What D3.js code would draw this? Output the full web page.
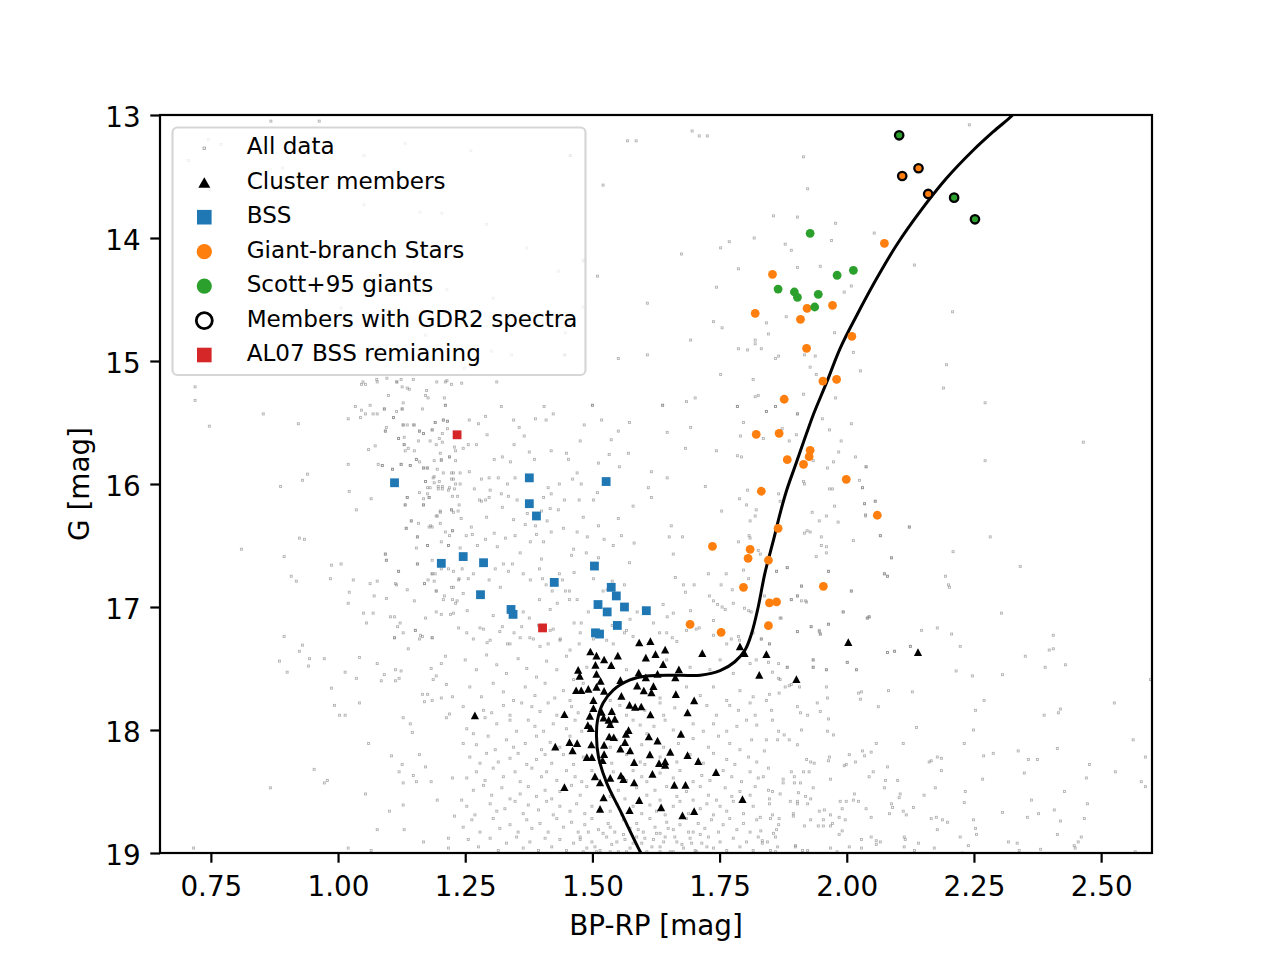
<!DOCTYPE html>
<html>
<head>
<meta charset="utf-8">
<script src="https://cdn.jsdelivr.net/npm/d3@7"></script>
<style>
body { margin: 0; background: #fff; }
svg { font-family: "DejaVu Sans", sans-serif; }
</style>
</head>
<body>
<svg id="cmd" width="1280" height="960"></svg>
<script>
var xTicks = [0.75, 1.00, 1.25, 1.50, 1.75, 2.00, 2.25, 2.50];
var yTicks = [13, 14, 15, 16, 17, 18, 19];

// all sources in the field: [BP-RP, G]
var allData = [
[0.719,15.21],[0.719,15.32],[0.747,15.53],[0.853,15.43],[0.922,15.51],[0.887,16.02],[0.930,15.97],[0.940,15.92],[0.810,16.53],[0.894,16.59],[0.924,16.44],[0.934,16.45],[0.908,16.75],[0.918,16.79],[0.894,17.24],[0.930,17.31],[0.924,17.36],[0.885,17.44],[0.900,17.53],[0.944,17.42],[0.942,17.48],[0.973,17.42],[0.953,18.32],[0.867,18.47],[0.973,18.43],[0.979,18.41],[0.716,18.96],[0.987,16.66],[1.006,16.65],[0.985,16.77],[0.987,17.66],[0.993,17.80],[1.003,17.88],[1.014,17.88],[1.014,17.53],[1.036,17.58],[1.042,17.41],[1.042,17.78],[1.060,18.11],[1.054,18.52],[1.020,18.96],[1.065,18.98],[1.077,18.81],[1.101,18.66],[1.105,18.21],[1.120,18.34],[1.126,18.28],[1.128,18.43],[1.128,18.61],[1.130,18.81],[1.148,18.37],[1.154,18.42],[1.160,18.20],[1.172,18.30],[1.168,18.91],[1.183,18.42],[1.195,18.57],[1.217,18.88],[1.217,18.96],[1.229,18.70],[1.225,18.39],[1.128,17.90],[1.142,17.95],[1.146,18.02],[1.213,17.90],[1.219,17.87],[1.166,17.71],[1.176,17.71],[1.170,17.77],[1.185,17.76],[1.203,17.74],[1.225,17.73],[1.213,17.63],[1.187,17.59],[1.193,17.56],[1.183,17.50],[1.203,17.46],[1.211,17.40],[1.077,17.46],[1.085,17.60],[1.091,17.55],[1.113,17.51],[1.113,17.60],[1.120,17.58],[1.124,17.52],[1.138,17.34],[1.111,17.25],[1.128,17.21],[1.117,17.16],[1.122,17.13],[1.152,17.19],[1.160,17.26],[1.166,17.24],[1.185,17.25],[1.103,17.08],[1.069,17.05],[1.050,17.05],[1.056,17.13],[1.020,16.97],[1.022,16.88],[1.071,16.91],[1.095,16.93],[1.030,16.78],[1.063,16.81],[1.077,16.79],[1.115,16.82],[1.136,16.86],[1.119,16.71],[1.093,16.57],[1.095,16.62],[1.156,16.65],[1.170,16.81],[1.177,16.78],[1.189,16.79],[1.185,16.73],[1.191,16.73],[1.193,16.87],[1.209,16.91],[1.203,17.06],[1.221,17.06],[1.237,17.17],[1.225,16.94],[1.231,16.97],[1.227,16.84],[1.237,16.78],[1.185,16.62],[1.203,16.69],[1.217,16.69],[1.154,16.52],[1.176,16.50],[1.203,16.47],[1.217,16.50],[1.156,16.43],[1.211,16.39],[1.219,16.42],[1.225,16.38],[1.134,16.36],[1.144,16.30],[1.158,16.32],[1.179,16.35],[1.185,16.35],[1.201,16.32],[1.195,16.26],[1.201,16.23],[1.223,16.21],[1.227,16.23],[1.132,16.17],[1.136,16.11],[1.168,16.12],[1.168,16.17],[1.179,16.11],[1.176,16.08],[1.225,16.10],[1.235,16.10],[1.217,16.05],[1.197,16.04],[1.205,16.02],[1.181,16.03],[1.172,15.98],[1.189,15.99],[1.229,16.04],[1.231,16.00],[1.223,15.96],[1.189,15.94],[1.207,15.91],[1.223,15.91],[1.195,15.88],[1.168,15.87],[1.176,15.87],[1.154,15.80],[1.160,15.82],[1.142,15.85],[1.124,15.84],[1.107,15.88],[1.079,15.84],[1.087,15.85],[1.020,15.84],[1.022,16.06],[1.065,16.12],[1.036,16.21],[1.060,15.72],[1.073,15.69],[1.119,15.63],[1.130,15.62],[1.130,15.68],[1.138,15.71],[1.132,15.73],[1.150,15.73],[1.158,15.65],[1.181,15.65],[1.193,15.68],[1.199,15.63],[1.205,15.66],[1.219,15.78],[1.231,15.81],[1.229,15.70],[1.203,15.80],[1.201,15.75],[1.160,15.57],[1.168,15.59],[1.185,15.56],[1.205,15.59],[1.215,15.55],[1.207,15.48],[1.215,15.49],[1.191,15.50],[1.128,15.52],[1.136,15.52],[1.150,15.52],[1.095,15.54],[1.093,15.57],[1.020,15.47],[1.044,15.46],[1.046,15.40],[1.054,15.43],[1.063,15.36],[1.069,15.43],[1.077,15.43],[1.091,15.39],[1.109,15.46],[1.115,15.41],[1.126,15.39],[1.128,15.34],[1.099,15.28],[1.166,15.39],[1.172,15.28],[1.177,15.30],[1.174,15.24],[1.209,15.30],[1.211,15.36],[1.211,15.17],[1.223,15.19],[1.126,15.21],[1.136,15.22],[1.140,15.23],[1.115,15.17],[1.124,15.15],[1.046,15.19],[1.054,15.19],[1.077,15.17],[1.034,15.37],
[2.241,13.08],[2.054,13.96],[2.133,14.22],[2.208,14.60],[2.027,15.08],[2.196,15.03],[2.190,15.22],[2.272,15.34],[2.465,15.66],[2.272,15.81],[2.038,15.86],[2.031,16.03],[2.035,16.16],[2.056,16.14],[2.037,16.25],[2.123,16.35],[2.066,16.42],[2.282,16.43],[2.209,16.55],[2.088,16.60],
[1.862,16.71],[1.883,16.68],[1.964,16.71],[2.074,16.73],[2.080,16.75],[2.194,16.75],[2.200,16.82],[2.202,16.84],[2.341,16.67],[1.911,16.83],[1.903,16.91],[1.891,16.94],[1.911,16.95],[1.921,16.96],[2.009,16.87],[1.993,17.04],[2.040,17.09],[2.044,17.08],[1.871,17.09],[1.930,17.16],[1.964,17.14],[1.946,17.20],[1.948,17.22],[1.903,17.20],[1.832,17.26],[1.848,17.30],[2.304,17.05],[2.147,17.19],[2.178,17.17],[2.206,17.22],[2.223,17.32],[2.406,17.23],[2.398,17.35],[2.406,17.34],[2.351,17.40],[2.080,17.37],[2.094,17.36],[2.125,17.32],[1.934,17.43],[1.934,17.49],[2.001,17.45],[2.019,17.51],[1.960,17.51],[1.846,17.45],[1.866,17.46],[1.883,17.49],[1.854,17.53],[1.866,17.58],[1.869,17.59],[1.879,17.65],[1.887,17.64],[1.891,17.63],[1.907,17.65],[2.215,17.52],[2.247,17.56],[2.306,17.55],[2.390,17.49],[2.430,17.47],[2.597,17.59],[1.960,17.65],[1.962,17.74],[1.942,17.78],[1.948,17.85],[1.923,17.88],[1.909,17.86],[1.903,17.81],[1.852,17.84],[1.854,17.92],[1.842,17.76],[1.848,17.71],[1.867,17.70],[2.023,17.70],[2.029,17.69],[2.027,17.75],[2.082,17.68],[2.062,17.81],[2.129,17.69],[2.137,17.98],[2.253,17.84],[2.270,17.76],[2.249,18.00],[2.388,17.88],[2.416,17.86],[2.420,17.83],[2.526,17.78],[2.563,18.08],[2.587,18.22],[1.964,17.91],[1.962,18.01],[1.974,18.04],[1.911,18.00],[1.866,18.01],[1.877,18.04],[1.887,18.08],[1.864,18.08],[1.903,18.12],[1.842,18.08],[1.838,18.17],[2.111,18.11],[2.058,18.11],[2.231,18.11],[2.269,18.21],[2.288,18.19],[2.337,18.17],[2.357,18.24],[2.375,18.24],[2.414,18.15],[2.477,18.28],[2.528,18.34],[2.471,18.39],[2.579,18.42],[2.587,18.46],[2.349,18.35],[2.267,18.40],[2.186,18.33],[2.162,18.26],[2.166,18.25],[2.178,18.22],[2.186,18.23],[2.080,18.30],[2.052,18.34],[2.044,18.38],[2.076,18.41],[2.100,18.41],[2.074,18.47],[2.031,18.17],[2.035,18.21],[2.048,18.18],[2.005,18.20],[2.017,18.26],[1.995,18.29],[1.999,18.28],[1.964,18.25],[1.966,18.22],[1.921,18.24],[1.929,18.26],[1.936,18.27],[1.891,18.34],[1.897,18.38],[1.915,18.34],[1.926,18.34],[1.909,18.43],[1.897,18.43],[1.875,18.40],[1.875,18.43],[1.846,18.31],[1.836,18.38],[1.846,18.49],[1.854,18.50],[1.869,18.52],[1.848,18.56],[1.848,18.60],[1.968,18.40],[1.934,18.47],[1.905,18.51],[1.919,18.54],[1.929,18.56],[1.903,18.58],[1.903,18.60],[1.889,18.58],[1.923,18.60],[1.987,18.58],[1.999,18.58],[2.013,18.57],[2.023,18.58],[2.015,18.52],[1.991,18.64],[2.038,18.64],[2.088,18.60],[2.090,18.63],[2.105,18.52],[2.103,18.55],[2.152,18.53],[2.131,18.63],[2.174,18.47],[2.233,18.50],[2.231,18.59],[2.306,18.67],[2.363,18.57],[2.377,18.68],[2.408,18.65],[2.428,18.50],[2.473,18.60],[2.420,18.74],[2.467,18.72],[2.414,18.85],[2.461,18.87],[2.455,18.91],[2.447,18.94],[2.449,18.96],[2.355,18.71],[2.335,18.92],[2.318,18.91],[2.339,18.98],[2.381,18.97],[2.567,18.99],[2.249,18.73],[2.253,18.80],[2.255,18.85],[2.223,18.87],[2.239,18.94],[2.227,19.00],[2.198,18.75],[2.188,18.73],[2.176,18.71],[2.166,18.72],[2.178,18.81],[2.172,18.96],[2.141,18.92],[2.133,18.98],[2.113,18.87],[2.115,18.89],[2.113,18.95],[2.111,18.66],[2.117,18.69],[2.084,18.68],[2.066,18.91],[2.058,18.90],[2.058,18.93],[2.048,18.87],[2.029,18.89],[2.029,18.96],[2.048,18.71],[2.005,18.95],[1.991,18.82],[1.985,18.85],[1.997,18.73],[1.985,18.71],[1.968,18.69],[1.972,18.76],[1.968,18.78],[1.954,18.73],[1.954,18.78],[1.944,18.78],[1.946,18.66],[1.956,18.65],[1.929,18.73],[1.917,18.78],[1.895,18.68],[1.895,18.70],[1.867,18.72],[1.866,18.77],[1.854,18.69],[1.850,18.72],[1.862,18.81],[1.856,18.84],[1.860,18.87],[1.844,18.91],[1.834,18.90],[1.834,18.92],[1.864,18.95],[1.850,18.98],[1.860,18.99],[1.899,18.94],[1.899,18.95],[1.913,18.98],[1.923,18.98],[1.968,18.96],[1.981,18.99],[1.830,18.71],[1.831,18.82],
[1.091,15.39],[1.109,15.46],[1.126,15.39],[1.128,15.52],[1.148,15.52],[1.093,15.57],[1.119,15.63],[1.130,15.68],[1.160,15.57],[1.168,15.59],[1.185,15.56],[1.191,15.50],[1.207,15.48],[1.215,15.49],[1.211,15.36],[1.258,15.48],[1.276,15.51],[1.290,15.45],[1.321,15.37],[1.345,15.48],[1.356,15.54],[1.366,15.61],[1.388,15.47],[1.409,15.48],[1.423,15.43],[1.405,15.37],[1.484,15.52],[1.500,15.36],[1.518,15.48],[1.573,15.50],[1.638,15.36],[1.647,15.58],[1.551,15.57],[1.537,15.64],[1.476,15.65],[1.449,15.75],[1.453,15.80],[1.419,15.73],[1.386,15.80],[1.376,15.74],[1.346,15.68],[1.339,15.82],[1.323,15.78],[1.307,15.80],[1.293,15.60],[1.272,15.68],[1.256,15.68],[1.246,15.71],[1.231,15.73],[1.219,15.78],[1.203,15.81],[1.189,15.81],[1.175,15.87],[1.168,15.87],[1.154,15.80],[1.142,15.85],[1.124,15.84],[1.107,15.88],[1.087,15.85],[1.227,15.91],[1.240,15.91],[1.258,15.90],[1.227,15.96],[1.199,15.98],[1.187,15.95],[1.172,15.98],[1.176,16.03],[1.160,16.07],[1.136,16.11],[1.132,16.17],[1.168,16.17],[1.179,16.11],[1.197,16.02],[1.205,16.04],[1.219,16.03],[1.240,16.00],[1.268,16.04],[1.278,16.13],[1.290,16.13],[1.297,16.11],[1.299,16.05],[1.282,15.96],[1.297,15.95],[1.315,15.95],[1.333,16.00],[1.348,15.95],[1.352,16.13],[1.335,16.10],[1.323,16.19],[1.321,16.08],[1.238,16.17],[1.236,16.22],[1.223,16.21],[1.201,16.22],[1.193,16.26],[1.182,16.34],[1.144,16.30],[1.156,16.43],[1.134,16.36],[1.093,16.57],[1.095,16.62],[1.119,16.71],[1.113,16.81],[1.156,16.65],[1.176,16.50],[1.185,16.73],[1.170,16.81],[1.193,16.87],[1.217,16.50],[1.225,16.38],[1.242,16.28],[1.262,16.35],[1.264,16.41],[1.252,16.42],[1.274,16.50],[1.240,16.52],[1.244,16.69],[1.227,16.71],[1.238,16.77],[1.256,16.77],[1.266,16.73],[1.223,16.84],[1.234,16.95],[1.254,17.03],[1.227,17.05],[1.246,16.89],[1.207,16.94],[1.150,16.95],[1.193,17.04],[1.172,17.09],[1.111,17.08],[1.152,17.19],[1.111,17.25],[1.185,17.25],[1.162,17.23],[1.282,16.14],[1.292,16.27],[1.307,16.40],[1.290,16.45],[1.313,16.51],[1.329,16.44],[1.348,16.42],[1.358,16.56],[1.343,16.65],[1.325,16.65],[1.309,16.69],[1.297,16.78],[1.319,16.84],[1.335,16.71],[1.364,16.73],[1.378,16.78],[1.396,16.69],[1.400,16.61],[1.378,16.47],[1.390,16.41],[1.404,16.47],[1.388,16.34],[1.368,16.33],[1.345,16.29],[1.372,16.24],[1.400,16.22],[1.417,16.20],[1.419,16.08],[1.404,16.11],[1.413,16.03],[1.435,16.00],[1.461,15.96],[1.470,15.91],[1.478,16.00],[1.445,16.13],[1.433,16.21],[1.411,16.30],[1.419,16.39],[1.443,16.36],[1.470,16.39],[1.490,16.43],[1.482,16.27],[1.474,16.13],[1.502,16.13],[1.510,16.07],[1.512,15.83],[1.553,15.86],[1.571,15.75],[1.533,15.76],[1.616,15.90],[1.610,16.03],[1.647,15.95],[1.616,16.11],[1.580,16.18],[1.551,16.28],[1.512,16.34],[1.582,16.48],[1.573,16.64],[1.655,16.34],[1.651,16.43],[1.659,16.57],[1.663,16.76],[1.639,16.98],[1.647,17.08],[1.659,17.05],[1.600,17.01],[1.588,17.04],[1.563,16.82],[1.539,16.79],[1.521,16.87],[1.529,16.86],[1.502,16.77],[1.464,16.72],[1.455,16.87],[1.435,16.73],[1.441,16.78],[1.463,16.53],[1.459,16.58],[1.488,16.56],[1.512,16.60],[1.541,16.50],[1.523,16.45],[1.557,16.42],[1.402,16.77],[1.409,16.82],[1.421,16.87],[1.447,16.87],[1.470,16.94],[1.455,16.94],[1.492,17.04],[1.478,17.13],[1.464,17.13],[1.431,16.97],[1.417,17.02],[1.396,16.94],[1.364,17.04],[1.376,17.09],[1.394,17.15],[1.423,17.18],[1.437,17.26],[1.413,17.30],[1.384,17.26],[1.346,17.21],[1.323,17.16],[1.305,17.07],[1.286,17.18],[1.266,17.26],[1.293,17.29],[1.333,17.30],[1.358,17.25],[1.474,17.30],[1.502,17.26],[1.541,17.30],[1.563,17.21],[1.539,17.15],[1.574,17.10],[1.620,17.13],[1.632,17.21],[1.657,17.25],[1.610,17.30],
[1.785,15.37],[1.842,15.41],[1.860,15.37],[1.903,15.43],[1.797,15.50],[1.693,15.54],[1.873,15.55],[1.791,15.61],[1.836,15.63],[1.887,15.65],[1.901,15.60],[1.952,15.47],[1.966,15.56],[2.009,15.51],[1.989,15.65],[1.683,15.71],[1.744,15.73],[1.785,15.77],[1.793,15.78],[1.934,15.81],[1.984,15.74],[2.017,15.78],[1.974,15.82],[1.962,15.87],[2.038,15.86],[1.915,15.98],[1.917,16.00],[2.025,15.97],[2.031,16.03],[1.972,16.04],[1.966,16.04],[1.722,16.02],[1.805,16.05],[1.866,16.08],[1.789,16.12],[1.869,16.14],[1.803,16.17],[1.822,16.21],[1.754,16.22],[1.820,16.26],[1.810,16.30],[1.932,16.23],[1.976,16.18],[2.035,16.16],[2.056,16.14],[2.037,16.26],[1.960,16.26],[1.946,16.30],[1.983,16.31],[2.123,16.35],[2.066,16.42],[2.013,16.46],[1.950,16.43],[1.950,16.50],[1.960,16.51],[1.960,16.56],[1.940,16.59],[1.917,16.40],[1.922,16.38],[1.928,16.39],[1.808,16.42],[1.810,16.44],[1.677,16.43],[1.787,16.47],[1.826,16.54],[1.830,16.57],[1.797,16.70],[1.807,16.77],[1.728,16.73],[1.763,16.73],[1.753,16.82],[1.775,16.86],[1.964,16.71],[1.883,16.68],[1.862,16.71],[1.911,16.83],[2.009,16.87],[2.088,16.60],[2.074,16.73],[2.080,16.75],[1.903,16.91],[1.919,16.95],[1.891,16.94],[1.993,17.04],[1.730,16.91],[1.738,16.95],[1.746,16.98],[1.755,17.00],[1.761,17.02],[1.777,16.97],[1.799,17.01],[1.807,17.03],[1.812,17.04],[1.838,16.91],[1.869,17.09],[1.930,17.16],[1.946,17.19],[1.948,17.22],[1.903,17.20],[1.964,17.14],[2.041,17.09],[2.044,17.08],[1.693,17.03],[1.679,16.82],[1.700,16.82],[1.683,16.88],[1.738,17.11],[1.710,17.17],[1.704,17.18],[1.773,17.26],[1.787,17.24],[1.789,17.27],[1.832,17.26],[1.848,17.30],[1.822,17.43],[1.883,17.49],[1.934,17.43],[1.934,17.49],[1.960,17.51],[2.001,17.45],[2.019,17.51],[2.094,17.36],[2.080,17.37],[2.125,17.32],
[1.696,13.13],[1.710,13.17],[1.726,13.17],[1.569,13.21],[1.586,13.21],[1.457,13.33],[1.915,13.34],[1.521,13.57],[1.923,13.60],[1.856,13.82],[1.903,13.83],[1.978,13.88],[1.818,14.00],[1.769,14.03],[1.879,14.05],[1.970,14.02],[1.752,14.08],[1.891,14.10],[1.675,14.13],[1.482,14.18],[1.787,14.25],[1.903,14.24],[1.948,14.23],[1.510,14.31],[1.744,14.40],[1.995,14.44],[2.009,14.39],[1.608,14.53],[1.881,14.64],[1.738,14.68],[1.755,14.73],[1.842,14.69],[1.846,14.78],[1.693,14.83],[1.820,14.83],[1.820,14.86],[1.787,14.90],[1.805,14.91],[1.832,14.90],[1.860,14.98],[1.866,14.96],[1.917,14.95],[1.938,14.96],[1.976,14.77],[2.013,14.93],[1.551,14.98],[1.608,14.95],[1.928,15.05],[1.940,15.11],[1.752,15.11],[1.816,15.15],[1.820,15.29],[1.826,15.28],[1.915,15.27],[1.978,15.30],[1.785,15.37],[1.842,15.41],[1.860,15.37],[1.500,15.36],[1.638,15.36],[1.685,15.33],[1.702,15.30],[1.903,15.43],[1.445,14.95],[1.447,14.77],
[0.868,13.05],[0.963,13.05],[0.745,13.20],[0.770,13.24],[1.132,13.23],[1.261,13.29],[1.456,13.33],[1.051,13.33],[0.706,13.37],[0.891,13.43],[0.748,13.61],[1.001,13.58],[1.161,13.79],[1.204,13.80],[1.051,13.73],[1.292,13.89],[1.371,14.08],[1.433,14.27],[1.214,14.42],[1.305,14.49],[1.006,14.57],[1.098,14.59],[1.345,14.65],[1.172,14.79],[1.302,14.92],[1.446,14.95],[1.248,15.06],[1.341,14.95],[1.482,14.19],[1.482,14.56],[1.049,15.17],[1.076,15.15],[1.096,15.14],[1.116,15.17],[1.148,15.15],[1.194,15.17],[1.214,15.16],[1.243,15.18],[1.312,15.17],
[1.253,17.21],[1.279,17.17],[1.299,17.27],[1.318,17.20],[1.338,17.30],[1.361,17.16],[1.377,17.25],[1.397,17.32],[1.417,17.19],[1.436,17.27],[1.456,17.35],[1.476,17.21],[1.528,17.27],[1.567,17.19],[1.580,17.24],[1.646,17.21],[1.666,17.28],[1.685,17.19],[1.738,17.23],[1.764,17.30],[1.816,17.21],[1.250,17.43],[1.272,17.51],[1.292,17.39],[1.312,17.47],[1.331,17.54],[1.354,17.42],[1.371,17.50],[1.390,17.57],[1.410,17.44],[1.430,17.51],[1.449,17.40],[1.463,17.59],[1.489,17.49],[1.567,17.51],[1.646,17.43],[1.692,17.49],[1.731,17.51],[1.751,17.43],[1.777,17.54],[1.810,17.46],[1.259,17.65],[1.282,17.73],[1.305,17.62],[1.325,17.69],[1.345,17.76],[1.368,17.65],[1.387,17.72],[1.407,17.62],[1.426,17.74],[1.443,17.68],[1.456,17.76],[1.482,17.62],[1.535,17.76],[1.633,17.74],[1.685,17.65],[1.712,17.72],[1.738,17.65],[1.764,17.76],[1.790,17.68],[1.816,17.73],
[1.246,17.81],[1.286,17.84],[1.302,17.86],[1.325,17.80],[1.338,17.88],[1.361,17.78],[1.381,17.81],[1.397,17.85],[1.413,17.78],[1.430,17.88],[1.459,17.81],[1.472,17.86],[1.554,17.80],[1.567,17.88],[1.603,17.84],[1.633,17.78],[1.640,17.88],[1.662,17.82],[1.725,17.80],[1.744,17.88],[1.770,17.80],[1.787,17.84],[1.810,17.78],[1.820,17.88],
[1.253,17.99],[1.266,18.03],[1.289,17.90],[1.312,17.95],[1.338,17.92],[1.351,18.01],[1.374,17.92],[1.387,17.97],[1.404,18.01],[1.423,17.95],[1.449,17.99],[1.466,17.92],[1.479,18.01],[1.548,17.93],[1.580,17.92],[1.594,17.96],[1.621,17.97],[1.643,17.92],[1.659,18.00],[1.698,17.95],[1.718,18.01],[1.738,17.95],[1.764,18.01],[1.784,17.97],[1.803,17.92],[1.823,17.96],
[1.246,18.11],[1.272,18.12],[1.295,18.05],[1.309,18.16],[1.331,18.08],[1.345,18.14],[1.368,18.11],[1.390,18.05],[1.400,18.16],[1.417,18.10],[1.436,18.14],[1.456,18.05],[1.535,18.14],[1.548,18.08],[1.597,18.12],[1.607,18.03],[1.640,18.14],[1.669,18.11],[1.698,18.07],[1.728,18.14],[1.748,18.05],[1.770,18.11],[1.790,18.16],[1.813,18.08],
[1.259,18.22],[1.279,18.27],[1.292,18.19],[1.315,18.26],[1.338,18.23],[1.354,18.19],[1.371,18.28],[1.390,18.24],[1.407,18.20],[1.420,18.27],[1.443,18.20],[1.463,18.28],[1.482,18.22],[1.538,18.27],[1.567,18.20],[1.594,18.26],[1.603,18.28],[1.633,18.22],[1.666,18.26],[1.692,18.20],[1.718,18.27],[1.738,18.19],[1.764,18.24],[1.780,18.28],[1.807,18.22],[1.823,18.26],
[1.253,18.39],[1.272,18.34],[1.289,18.41],[1.305,18.31],[1.325,18.38],[1.348,18.34],[1.358,18.42],[1.381,18.31],[1.400,18.38],[1.410,18.34],[1.430,18.41],[1.449,18.33],[1.466,18.38],[1.479,18.42],[1.499,18.33],[1.541,18.34],[1.567,18.41],[1.580,18.33],[1.597,18.38],[1.607,18.42],[1.633,18.35],[1.659,18.39],[1.672,18.33],[1.698,18.42],[1.715,18.37],[1.731,18.41],[1.757,18.33],[1.774,18.38],[1.793,18.42],[1.810,18.34],[1.826,18.39],
[1.243,18.57],[1.266,18.49],[1.286,18.45],[1.302,18.53],[1.322,18.47],[1.338,18.56],[1.358,18.52],[1.374,18.46],[1.390,18.54],[1.407,18.49],[1.420,18.56],[1.436,18.50],[1.459,18.45],[1.476,18.53],[1.489,18.46],[1.535,18.54],[1.551,18.49],[1.564,18.56],[1.587,18.47],[1.607,18.53],[1.623,18.49],[1.633,18.57],[1.646,18.46],[1.666,18.54],[1.685,18.50],[1.698,18.57],[1.712,18.46],[1.728,18.53],[1.744,18.57],[1.761,18.47],[1.774,18.54],[1.790,18.50],[1.810,18.53],[1.820,18.46],
[1.253,18.62],[1.269,18.69],[1.299,18.60],[1.312,18.66],[1.328,18.64],[1.348,18.58],[1.364,18.68],[1.374,18.61],[1.394,18.65],[1.410,18.58],[1.423,18.69],[1.436,18.62],[1.456,18.66],[1.469,18.60],[1.485,18.68],[1.499,18.62],[1.535,18.66],[1.548,18.60],[1.558,18.69],[1.580,18.62],[1.597,18.68],[1.613,18.61],[1.626,18.66],[1.643,18.69],[1.659,18.62],[1.672,18.58],[1.689,18.68],[1.712,18.64],[1.725,18.60],[1.738,18.69],[1.751,18.62],[1.764,18.66],[1.777,18.58],[1.797,18.68],[1.816,18.62],
[1.246,18.79],[1.263,18.73],[1.279,18.83],[1.305,18.72],[1.318,18.80],[1.338,18.77],[1.354,18.83],[1.371,18.73],[1.381,18.80],[1.397,18.76],[1.413,18.83],[1.430,18.72],[1.443,18.79],[1.459,18.75],[1.472,18.83],[1.485,18.77],[1.499,18.72],[1.512,18.81],[1.531,18.76],[1.544,18.83],[1.561,18.73],[1.574,18.80],[1.587,18.76],[1.600,18.83],[1.613,18.72],[1.623,18.79],[1.633,18.84],[1.646,18.75],[1.659,18.81],[1.672,18.77],[1.685,18.72],[1.698,18.83],[1.708,18.76],[1.721,18.80],[1.734,18.73],[1.748,18.83],[1.757,18.77],[1.770,18.72],[1.784,18.81],[1.797,18.76],[1.810,18.83],[1.823,18.73],
[1.256,18.89],[1.276,18.95],[1.299,18.88],[1.315,18.98],[1.331,18.92],[1.351,18.87],[1.364,18.96],[1.377,18.91],[1.394,18.98],[1.407,18.88],[1.420,18.95],[1.436,18.89],[1.449,18.98],[1.463,18.92],[1.476,18.87],[1.489,18.96],[1.499,18.91],[1.515,18.98],[1.528,18.87],[1.538,18.93],[1.551,18.99],[1.564,18.89],[1.574,18.96],[1.587,18.87],[1.597,18.92],[1.607,18.99],[1.620,18.89],[1.633,18.95],[1.643,18.87],[1.653,18.99],[1.666,18.91],[1.679,18.96],[1.692,18.88],[1.702,18.98],[1.715,18.92],[1.728,18.87],[1.738,18.96],[1.751,18.91],[1.764,18.98],[1.777,18.88],[1.790,18.95],[1.803,18.91],[1.816,18.98],[1.826,18.87],
[1.476,18.89],[1.492,18.83],[1.505,18.95],[1.521,18.84],[1.535,18.79],[1.548,18.91],[1.561,18.85],[1.580,18.92],[1.590,18.81],[1.603,18.88],[1.617,18.95],[1.626,18.84],[1.640,18.91],[1.649,18.80],[1.662,18.87],[1.676,18.93],[1.689,18.83],[1.695,18.92],[1.712,18.85],[1.725,18.95],[1.508,18.99],[1.659,18.99],[1.567,18.99],[1.535,18.99],[1.705,18.99],[1.482,18.99],[1.633,18.99]
];

var members = [
[1.269,17.883],[1.592,17.290],[1.614,17.279],[1.643,17.347],[1.496,17.363],[1.508,17.396],[1.550,17.396],[1.605,17.412],[1.624,17.385],[1.716,17.377],[1.790,17.322],[1.799,17.377],[1.523,17.428],[1.506,17.472],[1.537,17.474],[1.639,17.466],[1.472,17.512],[1.670,17.509],[1.475,17.561],[1.508,17.545],[1.591,17.534],[1.628,17.545],[1.605,17.574],[1.663,17.574],[1.516,17.602],[1.555,17.596],[1.508,17.650],[1.588,17.640],[1.620,17.645],[1.468,17.678],[1.478,17.678],[1.492,17.667],[1.523,17.683],[1.601,17.680],[1.616,17.696],[1.557,17.724],[1.664,17.710],[1.502,17.759],[1.700,17.761],[1.573,17.797],[1.584,17.813],[1.596,17.810],[1.502,17.824],[1.445,17.873],[1.518,17.854],[1.538,17.848],[1.614,17.875],[1.687,17.859],[1.495,17.886],[1.522,17.900],[1.532,17.919],[1.544,17.911],[1.491,17.962],[1.497,17.986],[1.535,17.954],[1.571,18.003],[1.566,18.033],[1.674,18.033],[1.533,18.054],[1.542,18.060],[1.611,18.054],[1.628,18.087],[1.455,18.100],[1.470,18.108],[1.498,18.119],[1.564,18.100],[1.427,18.136],[1.461,18.168],[1.523,18.122],[1.555,18.152],[1.574,18.168],[1.653,18.179],[1.523,18.198],[1.613,18.200],[1.687,18.206],[1.489,18.222],[1.499,18.222],[1.520,18.247],[1.582,18.263],[1.631,18.271],[1.643,18.257],[1.643,18.285],[1.708,18.255],[1.618,18.358],[1.743,18.344],[1.505,18.379],[1.535,18.390],[1.556,18.371],[1.561,18.401],[1.515,18.428],[1.582,18.428],[1.661,18.447],[1.683,18.447],[1.445,18.466],[1.522,18.550],[1.592,18.572],[1.795,18.564],[1.515,18.642],[1.573,18.653],[1.635,18.631],[1.677,18.696],[1.700,18.661],[1.828,17.553],[1.842,17.385],[2.003,17.287],[2.140,17.368],[1.901,17.588]
];

var bss = [
[1.111,15.99],[1.376,15.95],[1.527,15.98],[1.376,16.16],[1.390,16.26],[1.203,16.645],[1.246,16.59],[1.286,16.64],[1.280,16.90],[1.504,16.667],[1.425,16.80],[1.537,16.84],[1.547,16.91],[1.340,17.02],[1.344,17.06],[1.511,16.98],[1.529,17.04],[1.563,17.00],[1.606,17.03],[1.549,17.15],[1.506,17.21],[1.514,17.22]
];

var giants = [
[2.074,14.043],[1.854,14.295],[1.820,14.612],[1.922,14.572],[1.909,14.661],[1.972,14.547],[2.010,14.799],[1.921,14.897],[1.953,15.163],[1.980,15.149],[1.877,15.311],[1.822,15.596],[1.867,15.588],[1.928,15.726],[1.926,15.778],[1.883,15.802],[1.915,15.840],[1.999,15.962],[1.832,16.059],[2.060,16.254],[1.865,16.360],[1.736,16.507],[1.810,16.531],[1.806,16.604],[1.846,16.620],[1.797,16.840],[1.954,16.832],[1.848,16.967],[1.862,16.959],[1.692,17.141],[1.753,17.206],[1.846,17.152],[2.109,13.496],[2.141,13.433],[2.160,13.642]
];

var scott = [
[1.928,13.962],[1.865,14.415],[1.897,14.439],[1.903,14.482],[1.944,14.458],[1.937,14.561],[1.981,14.303],[2.013,14.263],[2.103,13.165],[2.211,13.672],[2.252,13.848]
];

var gdr2 = [
[2.103,13.165],[2.109,13.496],[2.141,13.433],[2.160,13.642],[2.211,13.672],[2.252,13.848]
];

var al07 = [[1.234,15.60],[1.402,17.17]];

var isochrone = [
[1.603,19.06],[1.594,18.99],[1.554,18.65],[1.528,18.43],[1.512,18.22],[1.508,18.05],[1.510,17.92],[1.521,17.78],[1.541,17.675],[1.574,17.593],[1.607,17.561],[1.672,17.555],[1.712,17.555],[1.751,17.518],[1.780,17.445],[1.800,17.350],[1.813,17.214],[1.826,16.998],[1.839,16.726],[1.856,16.455],[1.869,16.238],[1.882,16.049],[1.898,15.859],[1.921,15.588],[1.934,15.439],[1.961,15.168],[1.987,14.897],[2.020,14.626],[2.059,14.328],[2.098,14.057],[2.144,13.786],[2.196,13.515],[2.249,13.285],[2.288,13.136],[2.324,13.008],[2.336,12.95]
];

var legendItems = [
    {label: "All data", kind: "dot"},
    {label: "Cluster members", kind: "tri"},
    {label: "BSS", kind: "sq", color: "#1f77b4"},
    {label: "Giant-branch Stars", kind: "circ", color: "#ff7f0e"},
    {label: "Scott+95 giants", kind: "circ", color: "#2ca02c"},
    {label: "Members with GDR2 spectra", kind: "ring"},
    {label: "AL07 BSS remianing", kind: "sq", color: "#d62728"}
];

var svg = d3.select("#cmd");
var axLeft = 160, axRight = 1152, axTop = 115, axBottom = 853;

var x = d3.scaleLinear().domain([0.65, 2.6]).range([axLeft, axRight]);
var y = d3.scaleLinear().domain([13, 19]).range([axTop, axBottom]);

svg.append("defs").append("clipPath").attr("id", "clip")
    .append("rect").attr("x", axLeft).attr("y", axTop)
    .attr("width", axRight - axLeft).attr("height", axBottom - axTop);

var plot = svg.append("g").attr("clip-path", "url(#clip)");

// field stars
plot.append("g").selectAll("rect").data(allData).enter().append("rect")
    .attr("x", function(d) { return x(d[0]) - 1; })
    .attr("y", function(d) { return y(d[1]) - 1; })
    .attr("width", 2).attr("height", 2)
    .attr("fill", "none")
    .attr("stroke", "#808080")
    .attr("stroke-opacity", 0.6)
    .attr("stroke-width", 0.9);

// cluster members
plot.append("g").selectAll("path").data(members).enter().append("path")
    .attr("d", "M0,-4L4.1,3.7L-4.1,3.7Z")
    .attr("transform", function(d) { return "translate(" + x(d[0]) + "," + y(d[1]) + ")"; })
    .attr("fill", "#000");

// isochrone
var line = d3.line()
    .x(function(d) { return x(d[0]); })
    .y(function(d) { return y(d[1]); })
    .curve(d3.curveCatmullRom.alpha(0.5));

plot.append("path").datum(isochrone)
    .attr("d", line)
    .attr("fill", "none")
    .attr("stroke", "#000")
    .attr("stroke-width", 3);

function squares(data, color) {
    plot.append("g").selectAll("rect").data(data).enter().append("rect")
        .attr("x", function(d) { return x(d[0]) - 4.4; })
        .attr("y", function(d) { return y(d[1]) - 4.4; })
        .attr("width", 8.8).attr("height", 8.8)
        .attr("fill", color);
}

function dots(data, color) {
    plot.append("g").selectAll("circle").data(data).enter().append("circle")
        .attr("cx", function(d) { return x(d[0]); })
        .attr("cy", function(d) { return y(d[1]); })
        .attr("r", 4.4)
        .attr("fill", color);
}

squares(bss, "#1f77b4");
dots(giants, "#ff7f0e");
dots(scott, "#2ca02c");

plot.append("g").selectAll("circle").data(gdr2).enter().append("circle")
    .attr("cx", function(d) { return x(d[0]); })
    .attr("cy", function(d) { return y(d[1]); })
    .attr("r", 4.2)
    .attr("fill", "none")
    .attr("stroke", "#000")
    .attr("stroke-width", 2.3);

squares(al07, "#d62728");

// axes
var xAxis = svg.append("g")
    .attr("transform", "translate(0," + axBottom + ")")
    .call(d3.axisBottom(x).tickValues(xTicks).tickFormat(d3.format(".2f"))
        .tickSizeInner(9.7).tickSizeOuter(0).tickPadding(9.7));

var yAxis = svg.append("g")
    .attr("transform", "translate(" + axLeft + ",0)")
    .call(d3.axisLeft(y).tickValues(yTicks).tickFormat(d3.format("d"))
        .tickSizeInner(9.7).tickSizeOuter(0).tickPadding(9.7));

[xAxis, yAxis].forEach(function(ax) {
    ax.select(".domain").remove();
    ax.selectAll(".tick line").attr("stroke", "#000").attr("stroke-width", 2.2);
    ax.selectAll(".tick text")
        .attr("fill", "#000")
        .style("font-family", "DejaVu Sans")
        .style("font-size", "27.8px");
});
xAxis.selectAll(".tick text").attr("y", 43).attr("dy", 0);
yAxis.selectAll(".tick text").attr("dy", "0.4em");

svg.append("rect")
    .attr("x", axLeft).attr("y", axTop)
    .attr("width", axRight - axLeft).attr("height", axBottom - axTop)
    .attr("fill", "none")
    .attr("stroke", "#000")
    .attr("stroke-width", 2.2);

svg.append("text")
    .attr("x", (axLeft + axRight) / 2).attr("y", 935)
    .attr("text-anchor", "middle")
    .style("font-size", "27.8px")
    .text("BP-RP [mag]");

svg.append("text")
    .attr("transform", "translate(89," + (axTop + axBottom) / 2 + ") rotate(-90)")
    .attr("text-anchor", "middle")
    .style("font-size", "27.8px")
    .text("G [mag]");

// legend
var legend = svg.append("g");
legend.append("rect")
    .attr("x", 172.5).attr("y", 127.5)
    .attr("width", 413).attr("height", 247.5)
    .attr("rx", 5).attr("ry", 5)
    .attr("fill", "#fff").attr("fill-opacity", 0.8)
    .attr("stroke", "#cccccc").attr("stroke-opacity", 0.8)
    .attr("stroke-width", 2.2);

var rows = legend.selectAll("g.item").data(legendItems).enter().append("g")
    .attr("class", "item")
    .attr("transform", function(d, i) { return "translate(204.3," + (148.3 + i * 34.45) + ")"; });

rows.each(function(d) {
    var g = d3.select(this);
    if (d.kind == "dot") {
        g.append("rect").attr("x", -1.2).attr("y", -1.2).attr("width", 2.4).attr("height", 2.4)
            .attr("fill", "none").attr("stroke", "#808080").attr("stroke-opacity", 0.7).attr("stroke-width", 0.9);
    } else if (d.kind == "tri") {
        g.append("path").attr("d", "M0,-5.6L6,5L-6,5Z").attr("fill", "#000");
    } else if (d.kind == "sq") {
        g.append("rect").attr("x", -7.3).attr("y", -7.3).attr("width", 14.6).attr("height", 14.6).attr("fill", d.color);
    } else if (d.kind == "circ") {
        g.append("circle").attr("r", 7.6).attr("fill", d.color);
    } else {
        g.append("circle").attr("r", 8).attr("fill", "none").attr("stroke", "#000").attr("stroke-width", 2.8);
    }
    g.append("text")
        .attr("x", 42.4).attr("y", 6)
        .style("font-size", "23.1px")
        .text(d.label);
});
</script>
</body>
</html>
